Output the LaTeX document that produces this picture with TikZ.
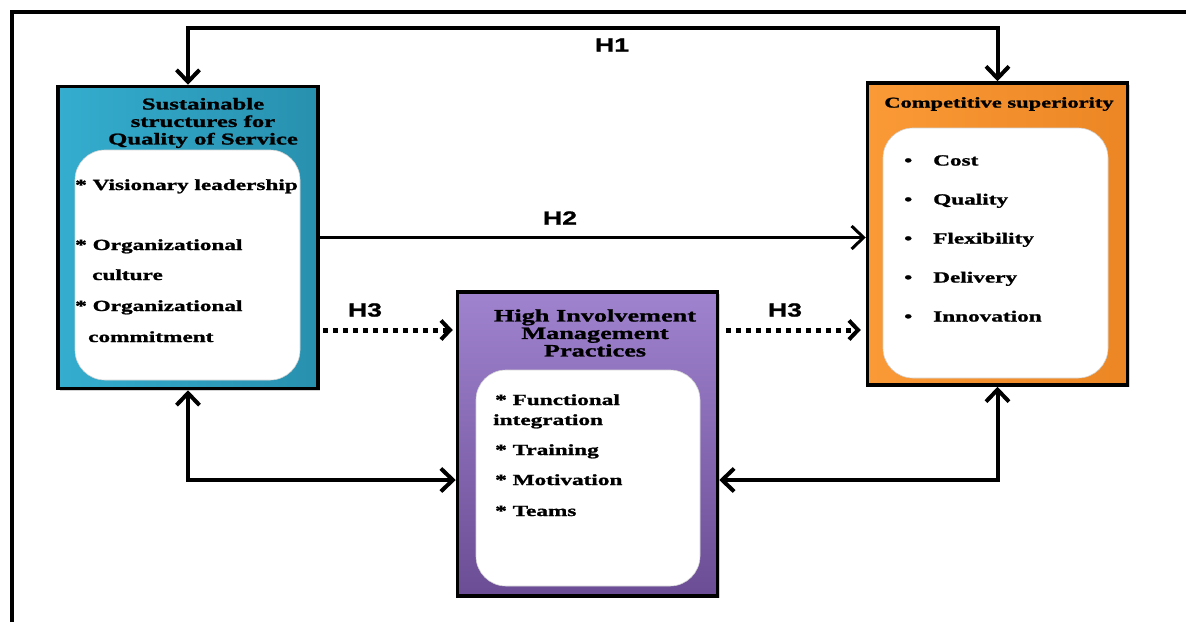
\documentclass[tikz,border=0pt]{standalone}
\usepackage{fontspec}
\setmainfont{Liberation Serif}[FakeStretch=1.5, BoldFeatures={FakeBold=1.3}]
\newfontfamily\hfont{Liberation Sans}[FakeStretch=1.4, BoldFeatures={FakeBold=1.2}]
\usetikzlibrary{arrows.meta,shadows}

\definecolor{sustblue}{HTML}{34ADCE}
\definecolor{sustbluedark}{HTML}{2890AF}
\definecolor{hiplight}{HTML}{A083CF}
\definecolor{hipmid}{HTML}{7D5CA8}
\definecolor{hipdark}{HTML}{6B4D95}
\definecolor{complight}{HTML}{FA9A36}
\definecolor{compdark}{HTML}{EC8624}

\tikzset{
  outerbox/.style={draw=black, line width=3.5pt, minimum width=260pt, minimum height=302pt, inner sep=0pt,
    drop shadow={shadow xshift=2pt, shadow yshift=-2pt, opacity=.35}},
  innerbox/.style={fill=white, draw=gray!35, line width=.6pt, rounded corners=30pt, inner sep=0pt},
  boxtitle/.style={font={\bfseries\fontsize{16.5}{17.5}\selectfont}, align=center, inner sep=0pt},
  listitem/.style={font={\bfseries\fontsize{15.5}{17}\selectfont}, anchor=base west, inner sep=0pt},
  hlabel/.style={font={\hfont\bfseries\fontsize{19}{19}\selectfont}, inner sep=0pt},
  hyplink/.style={line width=3.5pt, -{Straight Barb[length=12pt,width=23pt]}},
  bihyp/.style={line width=4pt, {Straight Barb[length=12pt,width=23pt]}-{Straight Barb[length=12pt,width=23pt]}},
  dotlink/.style={line width=5pt, dash pattern=on 5pt off 5pt,
    -{Straight Barb[length=9pt,width=19pt,line width=4pt]}},
}

\begin{document}
\begin{tikzpicture}[x=1pt,y=-1pt]
\useasboundingbox (0,0) rectangle (1186,622);

% frame
\coordinate (frameBL) at (12,622);
\coordinate (frameTL) at (12,12);
\coordinate (frameTR) at (1186,12);
\draw[line width=4pt] (frameBL) -- (frameTL) -- (frameTR);

% the three blocks
\node[outerbox, left color=sustblue, right color=sustbluedark] (sus) at (188,237.5) {};
\node[outerbox, top color=hiplight, middle color=hipmid, bottom color=hipdark, minimum height=304pt] (hip) at (587.5,444) {};
\node[outerbox, left color=complight, right color=compdark] (comp) at (997.5,234) {};

\node[innerbox, minimum width=225pt, minimum height=230pt] (susin) at (187.5,265) {};
\node[innerbox, minimum width=224pt, minimum height=216pt] (hipin) at (588,478) {};
\node[innerbox, minimum width=225pt, minimum height=250pt] (compin) at (995.5,253) {};

\node[boxtitle] (sustitle) at (203,123) {Sustainable\\structures for\\Quality of Service};
\node[boxtitle, font={\bfseries\fontsize{17.5}{17.5}\selectfont}] (hiptitle) at (595,333)
    {High Involvement\\Management\\Practices};
\node[boxtitle, font={\bfseries\fontsize{15}{17}\selectfont}] (comptitle) at (999,104) {Competitive superiority};

% contents
\node[listitem] (sus1) at (75,190) {* Visionary leadership};
\node[listitem] (sus2) at (75,250) {* Organizational};
\node[listitem] (sus3) at (92,280) {culture};
\node[listitem] (sus4) at (75,311) {* Organizational};
\node[listitem] (sus5) at (88,342) {commitment};

\node[listitem] (hip1) at (495,405) {* Functional};
\node[listitem] (hip2) at (493,425) {integration};
\node[listitem] (hip3) at (495,455) {* Training};
\node[listitem] (hip4) at (495,485) {* Motivation};
\node[listitem] (hip5) at (495,516) {* Teams};

\foreach \txt [count=\i] in {Cost,Quality,Flexibility,Delivery,Innovation}
  \node[listitem] (comp\i) at (904,126.5+39*\i) {\makebox[29pt][l]{\textbullet}\txt};

% hypotheses
\draw[bihyp] (sus.north) -- ++(0,-57) -| (comp.north);
\draw[hyplink, line width=3pt] (sus.east) -- (sus.east -| comp.west);
\coordinate (h3row) at (0,330);
\draw[dotlink, shorten <=3pt, shorten >=3pt] (sus.east |- h3row) -- (hip.west |- h3row);
\draw[dotlink, shorten <=7pt, shorten >=5pt] (hip.east |- h3row) -- (comp.west |- h3row);
\draw[bihyp] (sus.south) |- ([yshift=-36pt]hip.west);
\draw[bihyp] (comp.south) |- ([yshift=-36pt]hip.east);

\node[hlabel] (h1) at (612,45) {H1};
\node[hlabel] (h2) at (560,218) {H2};
\node[hlabel] (h3a) at (365,310) {H3};
\node[hlabel] (h3b) at (785,310) {H3};
\end{tikzpicture}
\end{document}
